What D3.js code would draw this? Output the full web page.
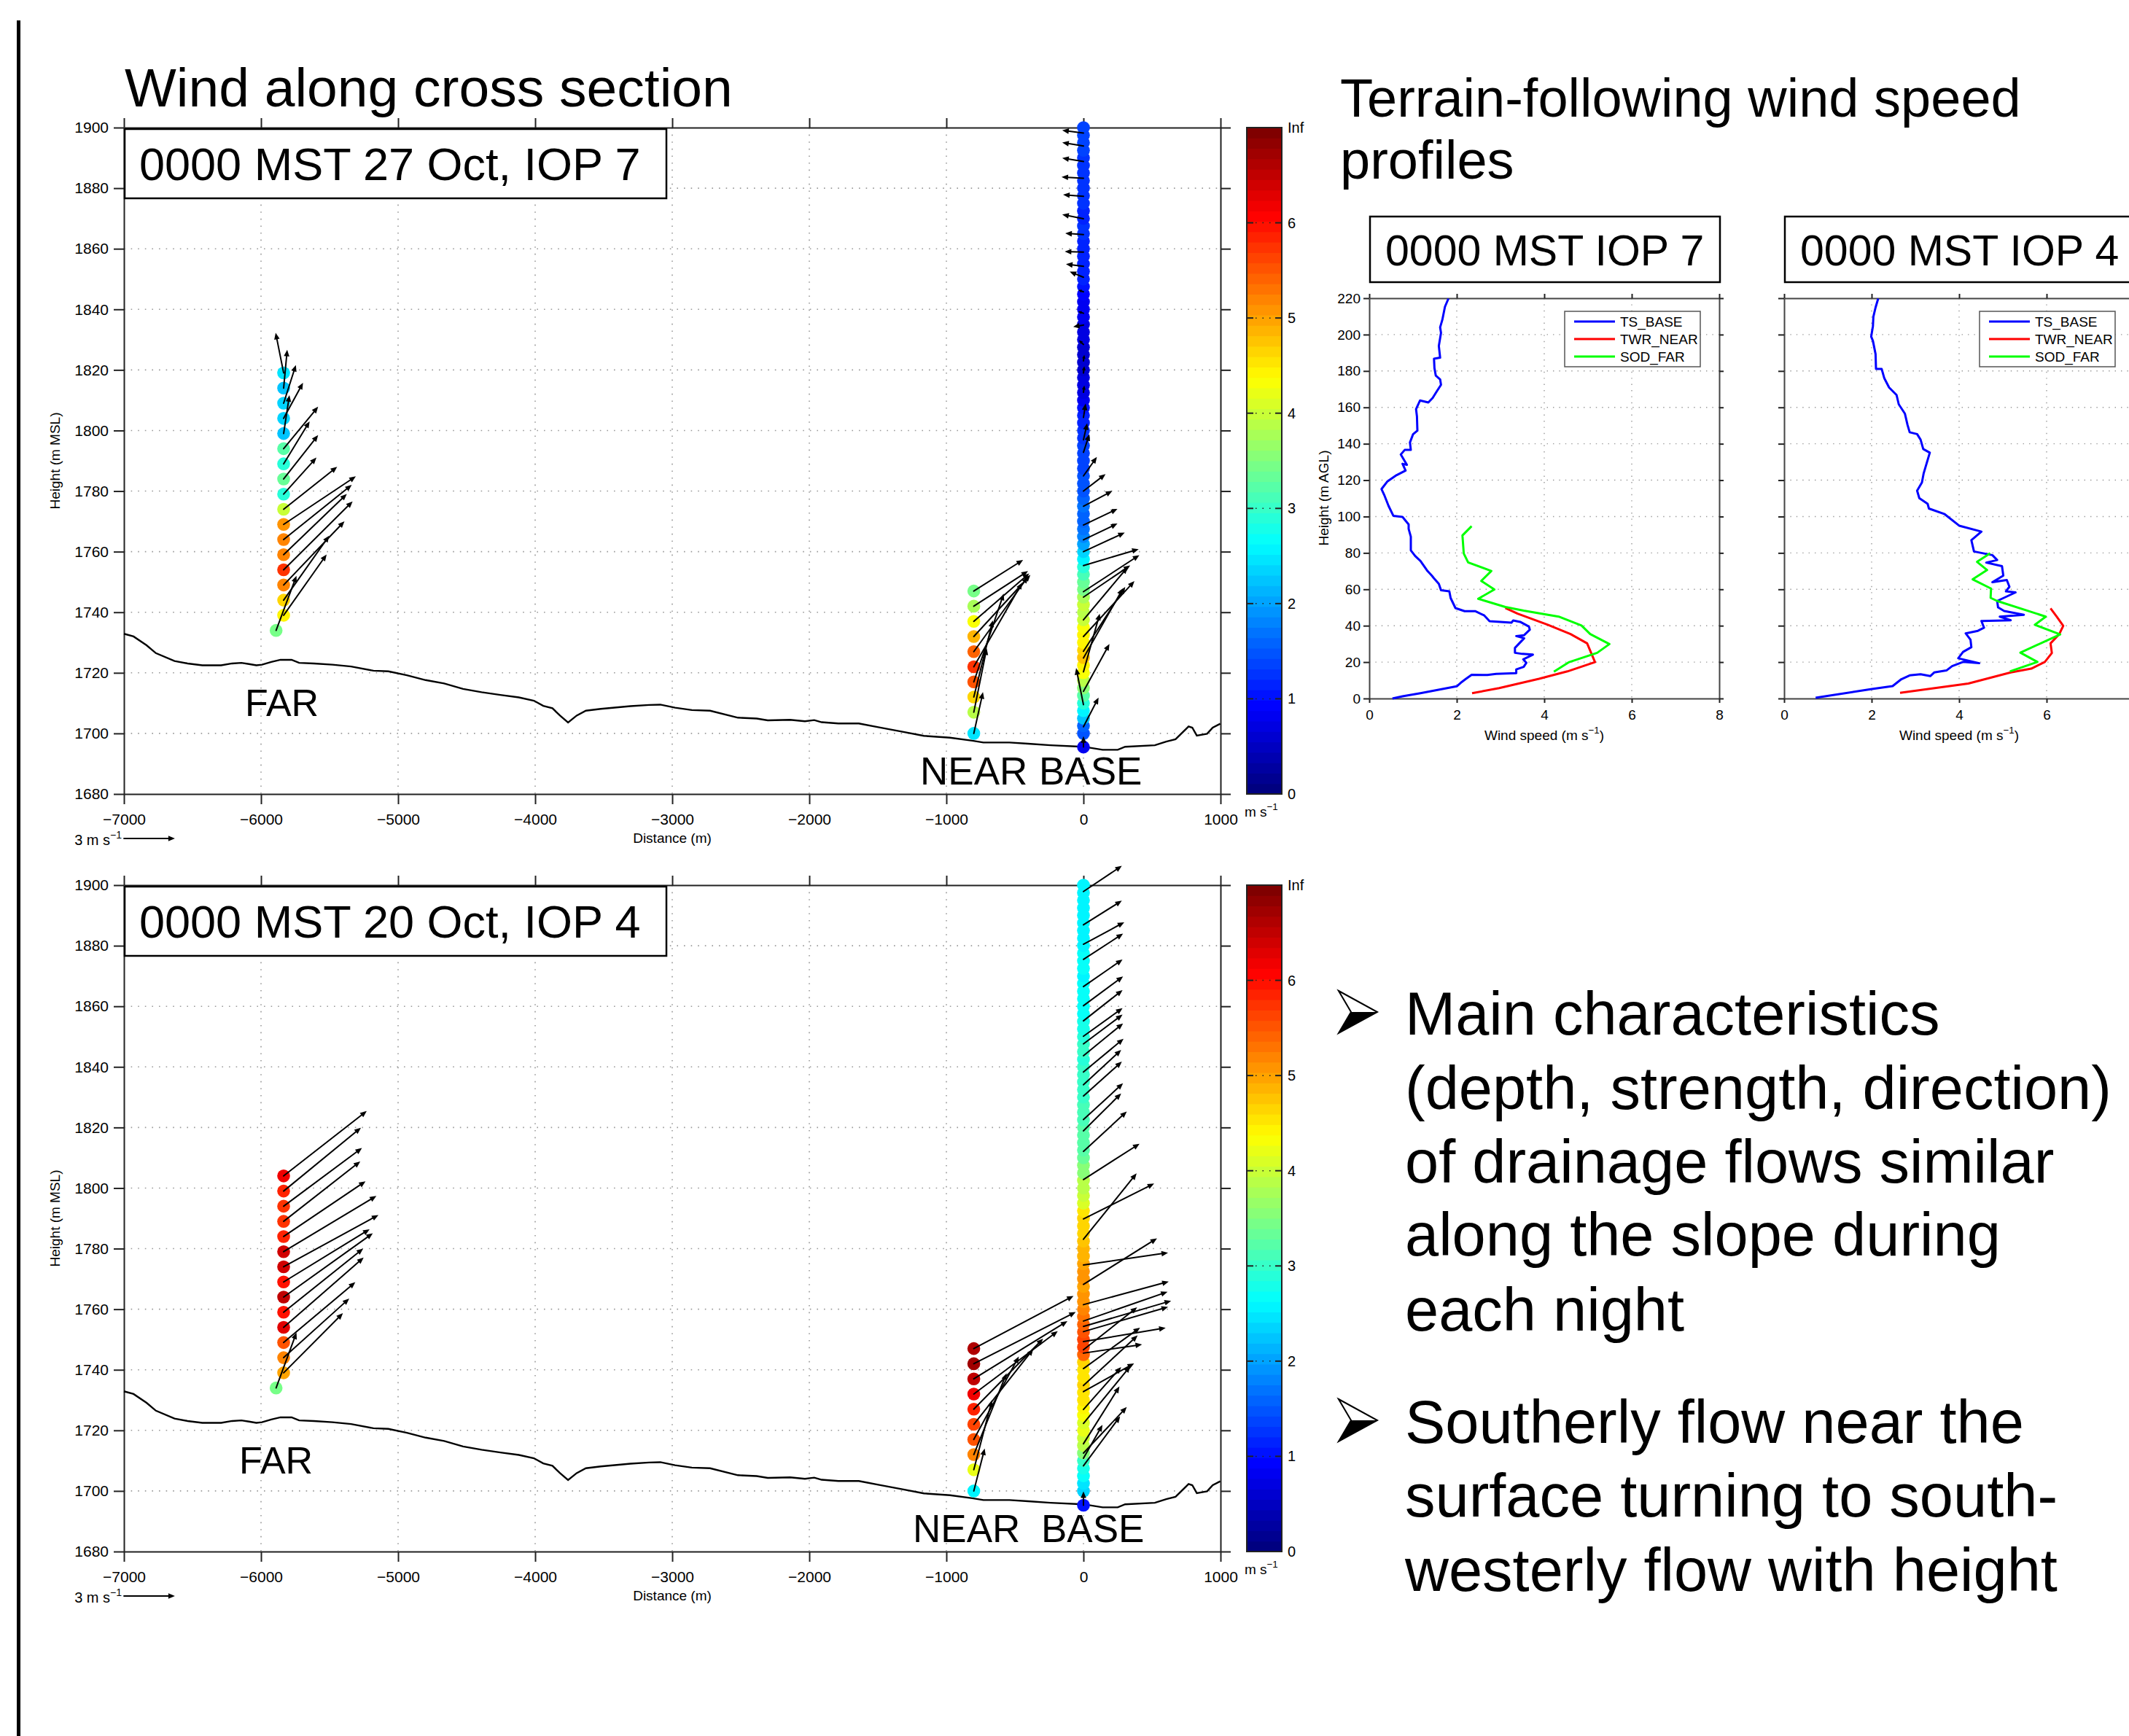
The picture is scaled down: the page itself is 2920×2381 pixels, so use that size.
<!DOCTYPE html>
<html><head><meta charset="utf-8">
<script src="https://cdn.jsdelivr.net/npm/d3@7"></script>
<style>
body{margin:0;background:#fff}
text{font-family:"Liberation Sans",Arial,Helvetica,sans-serif;fill:#000}
</style>
</head><body>
<script>
// ---------------- DATA ----------------
const xsecTicksX = [-7000,-6000,-5000,-4000,-3000,-2000,-1000,0,1000];
const xsecTicksY = [1680,1700,1720,1740,1760,1780,1800,1820,1840,1860,1880,1900];
const cbTicks = [0,1,2,3,4,5,6,7];
const cbTickLabels = ["0","1","2","3","4","5","6","Inf"];
const profTicksX = [0,2,4,6,8];
const profTicksY = [0,20,40,60,80,100,120,140,160,180,200,220];

// terrain along cross section (distance m, elevation m MSL)
const terrainDist = [-7000,-6930,-6835,-6767,-6631,-6536,-6428,-6291,-6211,-6143,-6088,-6034,-5993,-5925,-5858,-5777,-5722,-5614,-5479,-5343,-5180,-5071,-4936,-4799,-4664,-4526,-4391,-4254,-4119,-4009,-3941,-3874,-3819,-3760,-3697,-3630,-3521,-3305,-3169,-3087,-2979,-2857,-2724,-2521,-2384,-2303,-2140,-2032,-1964,-1910,-1788,-1639,-1490,-1327,-1164,-974,-811,-730,-540,-405,-241,0,140,250,304,521,604,672,767,794,827,902,943,998];
const terrainElev = [1732.9,1732.0,1729.1,1726.5,1723.9,1723.1,1722.5,1722.5,1723.1,1723.3,1722.9,1722.5,1722.7,1723.6,1724.3,1724.3,1723.3,1723.1,1722.7,1722.1,1720.7,1720.5,1719.2,1717.6,1716.5,1714.7,1713.6,1712.7,1711.9,1710.8,1709.1,1708.3,1705.9,1703.6,1705.9,1707.5,1708.1,1709.0,1709.4,1709.5,1708.5,1707.7,1707.5,1705.2,1704.9,1704.3,1704.5,1704.0,1704.4,1703.7,1703.3,1703.3,1702.0,1700.6,1699.2,1698.6,1697.6,1697.0,1697.0,1696.6,1696.1,1695.6,1694.6,1694.6,1695.6,1696.1,1697.3,1698.1,1702.3,1701.9,1699.3,1699.9,1701.9,1703.2];

// station distances along section (m)
const farDist = [-5835,-5890];   // profiler column, lowest point
const nearDist = [-800];
const baseDist = [0];

// IOP 7 (27 Oct) FAR column: height, east (u) and north (v) wind, m/s
const iop7FarH = [1819,1814,1809,1804,1799,1794,1789,1784,1779,1774,1769,1764,1759,1754,1749,1744,1739,1734];
const iop7FarU = [-0.47,0.21,0.72,1.14,0.34,2.03,1.53,2.03,1.93,3.15,4.25,4.01,3.72,4.06,3.58,2.68,2.53,1.20];
const iop7FarV = [2.36,2.26,2.25,2.10,2.26,2.47,2.50,2.58,2.15,2.50,2.83,3.22,3.58,4.03,3.75,3.79,3.58,3.22];
// IOP 7 NEAR tower
const nearH = [1747,1742,1737,1732,1727,1722,1717,1712,1707,1700];
const iop7NearU = [2.90,3.19,3.26,3.33,3.19,2.85,1.76,1.12,0.76,0.54];
const iop7NearV = [1.83,2.07,2.82,3.62,4.41,4.95,5.19,4.51,3.76,2.43];
// BASE tethersonde dots
const baseDotH = [1700,1702.5,1705,1707.5,1710,1712.5,1715,1717.5,1720,1722.5,1725,1727.5,1730,1732.5,1735,1737.5,1740,1742.5,1745,1747.5,1750,1752.5,1755,1757.5,1760,1762.5,1765,1767.5,1770,1772.5,1775,1777.5,1780,1782.5,1785,1787.5,1790,1792.5,1795,1797.5,1800,1802.5,1805,1807.5,1810,1812.5,1815,1817.5,1820,1822.5,1825,1827.5,1830,1832.5,1835,1837.5,1840,1842.5,1845,1847.5,1850,1852.5,1855,1857.5,1860,1862.5,1865,1867.5,1870,1872.5,1875,1877.5,1880,1882.5,1885,1887.5,1890,1892.5,1895,1897.5,1900];
const iop7BaseSpeed = [1.5,1.6,2.2,2.6,2.9,3.2,3.6,3.9,4.3,4.4, 4.8,4.7,4.4,4.4,4.3,4.0,3.9,4.0,3.8,3.4, 3.3,3.1,2.9,2.6,2.3,2.0,1.8,1.7,1.6,1.6, 1.7,1.6,1.5,1.5,1.5,1.4,1.4,1.4,1.4,1.3, 1.3,1.2,1.2,1.0,0.8,0.7,0.7,0.7,0.6,0.6, 0.6,0.6,0.7,0.7,0.7,0.8,0.8,0.8,0.9,1.0, 1.1,1.2,1.2,1.2,1.2,1.2,1.3,1.3,1.2,1.2, 1.3,1.3,1.3,1.3,1.3,1.3,1.3,1.4,1.4,1.4,1.4];
const iop7BaseArrowH = [1898.2,1893.9,1888.8,1883.3,1877.3,1869.9,1864.7,1858.9,1854.2,1850.6,1845.8,1838.7,1834.8,1828.4,1823,1819,1812.6,1804.3,1796.9,1792.8,1785,1780,1775,1768.8,1763.9,1760,1755.4,1746.8,1745,1737.5,1732,1727.1,1724.9,1720.3,1713.9,1709.5,1702.2];
const iop7BaseArrowU = [-1.25,-1.25,-1.25,-1.29,-1.20,-1.25,-1.07,-1.10,-1.03,-0.81,-0.30,-0.30,-0.60,-0.26,0.05,0.05,0.05,0.13,0.22,0.35,0.79,1.3,1.7,2.0,2.00,2.43,3.25,3.29,2.75,2.60,3.00,2.46,2.32,0.96,1.53,-0.43,0.89];
const iop7BaseArrowV = [0.16,0.21,0.21,0.07,0.10,0.25,0.07,0.03,0.13,0.33,0.10,0.10,-0.10,0.25,0.35,0.40,0.40,0.82,0.98,1.07,1.12,1.0,0.9,0.95,0.96,1.12,0.97,2.15,1.86,3.10,3.26,3.79,4.09,3.43,2.79,2.15,1.72];

// IOP 4 (20 Oct)
const iop4FarH = [1804,1799,1794,1789,1784,1779,1774,1769,1764,1759,1754,1749,1744,1739,1734];
const iop4FarU = [4.89,4.55,4.61,4.51,4.82,5.46,5.58,5.06,5.25,4.68,4.71,4.22,3.86,3.49,1.20];
const iop4FarV = [3.82,3.73,3.43,3.53,3.25,3.28,3.05,3.10,3.76,3.75,4.11,3.55,3.48,3.51,3.26];
const iop4NearU = [5.87,6.00,5.51,4.94,4.08,3.50,2.65,1.93,1.07,0.64];
const iop4NearV = [3.10,3.04,3.40,3.70,4.15,4.43,4.88,4.79,4.10,2.50];
const iop4BaseSpeed = [2.3,2.5,2.7,2.8,3.0,3.6,3.9,4.0,4.2,4.1, 4.3,4.4,4.5,4.5,4.6,4.5,4.5,4.6,5.4,5.6, 5.6,5.5,5.4,5.3,5.2,5.1,5.1,5.0,5.1,5.1, 5.0,4.9,4.9,4.8,4.7,4.6,4.7,4.5,4.1,4.0, 3.9,3.9,3.6,3.5,3.3,3.2,3.2,3.2,3.2,3.1, 3.1,3.1,3.0,3.0,3.0,3.0,3.0,2.9,3.0,3.0, 2.9,2.8,2.8,2.7,2.7,2.7,2.7,2.7,2.6,2.7, 2.7,2.7,2.6,2.6,2.6,2.6,2.6,2.6,2.6,2.6,2.6];
const iop4BaseArrowH = [1897.9,1886.9,1880.5,1875.5,1866.5,1860.2,1855.2,1850.1,1847.6,1843.7,1838.3,1834.1,1830.4,1822.6,1818.9,1812.1,1802.8,1789.8,1783.1,1774.6,1768.2,1761.5,1756.1,1754.3,1752.6,1749.3,1746.6,1745.5,1740.4,1734.8,1732.8,1726.9,1722.3,1715.6,1712.5,1710.8,1708.3];
const iop4BaseArrowU = [2.26,2.26,2.40,2.33,2.30,2.33,2.30,2.30,2.30,2.33,2.36,2.22,2.26,2.33,2.22,2.55,3.30,4.16,3.13,4.98,4.33,5.02,4.95,5.16,4.98,4.84,3.16,3.45,3.33,3.19,2.98,2.22,2.76,2.12,2.55,1.12,2.16];
const iop4BaseArrowV = [1.51,1.42,1.29,1.51,1.60,1.72,1.81,1.66,1.72,1.90,1.96,2.05,2.02,2.14,2.20,2.35,2.11,2.08,3.88,0.72,2.71,1.36,1.72,1.51,1.45,0.81,2.50,0.51,2.41,2.95,1.66,2.50,3.37,3.37,2.71,1.96,2.92];

// BASE surface station [IOP7, IOP4]
const baseSfcH = [1695.5,1695.3];
const baseSfcSpeed = [0.8,1.0];
const baseSfcU = [0,0];
const baseSfcV = [0.64,0.81];

// Terrain-following profiles (wind speed m/s, height m AGL)
const iop7TsV = [0.53,0.76,1.17,2.0,2.09,2.2,2.34,2.7,2.9,3.36,3.36,3.53,3.59,3.52,3.74,3.5,3.33,3.33,3.54,3.36,3.54,3.67,3.65,3.45,3.29,3.25,2.75,2.63,2.42,2.18,1.97,1.93,1.86,1.83,1.64,1.59,1.48,1.43,1.33,1.24,1.17,1.05,0.95,0.95,0.9,0.9,0.76,0.55,0.44,0.34,0.28,0.41,0.62,0.83,0.76,0.86,0.72,0.81,0.95,0.93,1.0,1.1,1.09,1.07,1.16,1.35,1.45,1.53,1.64,1.62,1.52,1.49,1.48,1.62,1.59,1.64,1.62,1.67,1.73,1.81];
const iop7TsH = [0,1.2,2.9,6.7,8.6,10.6,13,12.9,13.5,13.9,16,17.4,19.6,21.5,24.1,24.5,25.1,27.8,33.1,34.3,34.8,37.8,39.5,42.1,42.9,41.7,42.5,45.6,48,48,49.7,51.7,55.2,58.9,59.5,63,66,67.5,70.1,73.2,75.6,78.3,81.4,88.9,93.2,95.7,99.8,100.4,105.9,112,115.1,119.2,122.7,125.3,129,128.4,134.1,136.6,136.6,140.7,145.2,147.2,155,159,163.8,162.7,165.2,168.3,172.4,175.4,177.5,181.6,186.7,187.3,193.8,201,204,208.1,215.3,219.8];
const iop7TwrV = [2.35,2.97,3.88,4.53,5.16,4.98,4.60,4.08,3.39,3.11];
const iop7TwrH = [2.9,5.7,10.8,14.9,20,30.3,35.4,40.5,46.6,49.7];
const iop7SodV = [4.22,4.57,5.21,5.49,5.05,4.85,4.33,3.53,3.11,2.49,2.86,2.56,2.79,2.26,2.16,2.13,2.34];
const iop7SodH = [14.7,20,25.1,29.9,35.4,40.1,45,48.3,50.3,54.8,59.9,64.6,70.1,74.8,79.7,89.6,94.7];

const iop4TsV = [0.72,1.98,2.48,2.68,2.87,3.12,3.34,3.43,3.71,3.84,4.09,4.46,3.98,4.09,4.28,4.26,4.15,4.43,4.57,4.51,5.18,4.93,5.48,5.03,4.89,4.87,5.29,5.07,5.15,5.09,4.76,5.01,4.98,4.62,4.87,4.76,4.34,4.28,4.51,4.0,3.67,3.31,3.28,3.09,3.04,3.15,3.19,3.33,3.18,3.12,3.04,2.87,2.82,2.76,2.62,2.57,2.4,2.29,2.23,2.1,2.09,2.03,1.99,2.03,2.04,2.09,2.15];
const iop4TsH = [0.4,5.1,6.8,10.6,12.7,13.3,12.3,14.3,15.4,17.8,20.1,19.4,22.1,25.6,28.2,32.3,35.8,37.2,38.9,42.6,43,45,46,48.1,50.1,53.6,58.3,58.9,61.4,65.1,63.9,67.5,72.7,74.7,76.1,78.8,80.8,87,91.7,95,101.3,104.4,107,110.1,114.2,118.7,123.8,135.1,137.1,142.2,145.3,146.3,150.4,156.6,161.7,166.8,170.9,176,181.1,181.1,189.3,196.5,198.9,204.7,209.8,214.9,219.8];
const iop4TwrV = [2.65,4.21,5.18,5.65,5.96,6.12,6.09,6.29,6.38,6.23,6.09];
const iop4TwrH = [3.1,8.2,14.3,16.4,20.1,25,30.3,35.4,39.9,45,49.5];
const iop4SodV = [5.16,5.79,5.40,6.31,5.73,5.98,4.87,4.72,4.73,4.31,4.64,4.41,4.71];
const iop4SodH = [14.9,20.1,25.2,35.2,40.5,45,53.6,55.3,60.4,65.5,70.6,75.1,79.8];

const legendNames = ["TS_BASE","TWR_NEAR","SOD_FAR"];
const legendColors = ["#0000ff","#ff0000","#00ff00"];
const bullet1 = ["Main characteristics","(depth, strength, direction)","of drainage flows similar","along the slope during","each night"];
const bullet2 = ["Southerly flow near the","surface turning to south-","westerly flow with height"];

// ---------------- DRAWING ----------------
const W = 2920, H = 2381;
const svg = d3.select("body").append("svg").attr("width", W).attr("height", H)
  .attr("xmlns","http://www.w3.org/2000/svg");
svg.append("rect").attr("width", W).attr("height", H).attr("fill", "#fff");

const SPD_MAX = 7, NCOL = 64, PX_PER_MS = 23.3;
const cl = v => Math.max(0, Math.min(1, v));
function jet(t){
  const r = cl(1.5 - Math.abs(4*t - 3)), g = cl(1.5 - Math.abs(4*t - 2)), b = cl(1.5 - Math.abs(4*t - 1));
  return d3.rgb(r*255, g*255, b*255).formatHex();
}
function speedColor(s){
  let i = Math.floor(s / SPD_MAX * NCOL); i = Math.max(0, Math.min(NCOL-1, i));
  return jet(i/(NCOL-1));
}
function arrow(g, x0, y0, x1, y1, lw){
  const dx = x1-x0, dy = y1-y0, L = Math.hypot(dx,dy);
  if (L < 0.5) return;
  const ux = dx/L, uy = dy/L;
  const hl = Math.min(9, L*0.6), hw = Math.min(3.8, hl*0.45);
  const bx = x1 - ux*hl, by = y1 - uy*hl;
  g.append("line").attr("x1",x0).attr("y1",y0).attr("x2",bx+ux*1).attr("y2",by+uy*1)
   .attr("stroke","#000").attr("stroke-width",lw||2).attr("stroke-linecap","round");
  g.append("path").attr("d",`M${x1},${y1}L${bx-uy*hw},${by+ux*hw}L${bx+uy*hw},${by-ux*hw}Z`).attr("fill","#000");
}
function styleAxis(sel, fs){
  sel.selectAll(".domain").attr("stroke","#222").attr("stroke-width",2);
  sel.selectAll(".tick line").attr("stroke","#222").attr("stroke-width",2);
  sel.selectAll("text").attr("font-family","Liberation Sans, Arial, sans-serif").attr("font-size",fs).attr("fill","#000");
}
function supText(g, x, y, base, sup, fs, anchor){
  const t = g.append("text").attr("x",x).attr("y",y).attr("font-size",fs).attr("text-anchor",anchor||"start");
  t.append("tspan").text(base);
  t.append("tspan").attr("dy",-fs*0.45).attr("font-size",fs*0.7).text(sup);
  return t;
}
function supText3(g, x, y, pre, sup, post, fs, anchor){
  const t = g.append("text").attr("x",x).attr("y",y).attr("font-size",fs).attr("text-anchor",anchor||"start");
  t.append("tspan").text(pre);
  t.append("tspan").attr("dy",-fs*0.45).attr("font-size",fs*0.7).text(sup);
  t.append("tspan").attr("dy",fs*0.45).text(post);
  return t;
}

// left black bar
svg.append("rect").attr("x",23).attr("y",28).attr("width",5).attr("height",H-28).attr("fill","#000");

// titles
svg.append("text").attr("x",171).attr("y",146).attr("font-size",75).text("Wind along cross section");
svg.append("text").attr("x",1838).attr("y",160).attr("font-size",74).text("Terrain-following wind speed");
svg.append("text").attr("x",1838).attr("y",245).attr("font-size",74).text("profiles");

function drawXsec(o){
  const g = svg.append("g");
  const x = d3.scaleLinear().domain([-7000,1000]).range([170,1674]);
  const y = d3.scaleLinear().domain([1680,1900]).range([o.bottom,o.top]);
  // grid
  const grid = g.append("g").attr("stroke","#9a9a9a").attr("stroke-width",1.6).attr("stroke-dasharray","1.6,8");
  xsecTicksX.slice(1,-1).forEach(t => grid.append("line").attr("x1",x(t)).attr("x2",x(t)).attr("y1",o.top).attr("y2",o.bottom));
  xsecTicksY.slice(1,-1).forEach(t => grid.append("line").attr("y1",y(t)).attr("y2",y(t)).attr("x1",170).attr("x2",1674));
  // axes
  const fmt = d3.format("d");
  const ab = g.append("g").attr("transform",`translate(0,${o.bottom})`)
    .call(d3.axisBottom(x).tickValues(xsecTicksX).tickSize(14).tickSizeOuter(0).tickPadding(13).tickFormat(fmt));
  styleAxis(ab, 21);
  const at = g.append("g").attr("transform",`translate(0,${o.top})`)
    .call(d3.axisTop(x).tickValues(xsecTicksX).tickSize(13).tickSizeOuter(0).tickFormat(""));
  styleAxis(at, 21);
  const al = g.append("g").attr("transform",`translate(170,0)`)
    .call(d3.axisLeft(y).tickValues(xsecTicksY).tickSize(14).tickSizeOuter(0).tickPadding(7).tickFormat(fmt));
  styleAxis(al, 21);
  const ar = g.append("g").attr("transform",`translate(1674,0)`)
    .call(d3.axisRight(y).tickValues(xsecTicksY).tickSize(14).tickSizeOuter(0).tickFormat(""));
  styleAxis(ar, 21);
  // axis labels
  g.append("text").attr("x",922).attr("y",o.bottom+67).attr("text-anchor","middle").attr("font-size",19).text("Distance (m)");
  g.append("text").attr("transform",`translate(82,${(o.top+o.bottom)/2}) rotate(-90)`).attr("text-anchor","middle").attr("font-size",19).text("Height (m MSL)");
  // scale arrow
  const sa = g.append("g");
  arrow(sa, x(-7000), o.bottom+61, x(-7000)+3*PX_PER_MS, o.bottom+61, 1.8);
  supText(sa, 167, o.bottom+70, "3 m s", "\u22121", 20, "end");
  // terrain
  const line = d3.line().x((d,i)=>x(terrainDist[i])).y((d,i)=>y(terrainElev[i])).curve(d3.curveLinear);
  g.append("path").attr("d", line(terrainDist)).attr("fill","none").attr("stroke","#000").attr("stroke-width",2.4);
  // station labels
  g.append("text").attr("x",o.farLabX).attr("y",o.bottom-107).attr("font-size",52).text("FAR");
  g.append("text").attr("x",o.nearLabX).attr("y",o.bottom-13).attr("font-size",53).text("NEAR");
  g.append("text").attr("x",o.baseLabX).attr("y",o.bottom-13).attr("font-size",53).text("BASE");
  // dots
  const R = 8.8;
  const dots = g.append("g");
  baseDotH.forEach((h,i)=> dots.append("circle").attr("cx",x(baseDist[0])).attr("cy",y(h)).attr("r",R).attr("fill",speedColor(o.baseSpeed[i])));
  dots.append("circle").attr("cx",x(baseDist[0])).attr("cy",y(baseSfcH[o.k])).attr("r",R).attr("fill",speedColor(baseSfcSpeed[o.k]));
  o.farH.forEach((h,i)=>{
    const d = i===o.farH.length-1 ? farDist[1] : farDist[0];
    dots.append("circle").attr("cx",x(d)).attr("cy",y(h)).attr("r",R).attr("fill",speedColor(Math.hypot(o.farU[i],o.farV[i])));
  });
  nearH.forEach((h,i)=> dots.append("circle").attr("cx",x(nearDist[0])).attr("cy",y(h)).attr("r",R).attr("fill",speedColor(Math.hypot(o.nearU[i],o.nearV[i]))));
  // arrows
  const arr = g.append("g");
  o.farH.forEach((h,i)=>{
    const d = i===o.farH.length-1 ? farDist[1] : farDist[0];
    const x0 = x(d), y0 = y(h);
    arrow(arr, x0, y0, x0+o.farU[i]*PX_PER_MS, y0-o.farV[i]*PX_PER_MS);
  });
  nearH.forEach((h,i)=>{
    const x0 = x(nearDist[0]), y0 = y(h);
    arrow(arr, x0, y0, x0+o.nearU[i]*PX_PER_MS, y0-o.nearV[i]*PX_PER_MS);
  });
  o.baseAH.forEach((h,i)=>{
    const x0 = x(baseDist[0]), y0 = y(h);
    arrow(arr, x0, y0, x0+o.baseAU[i]*PX_PER_MS, y0-o.baseAV[i]*PX_PER_MS);
  });
  {
    const x0 = x(baseDist[0]), y0 = y(baseSfcH[o.k]);
    arrow(arr, x0, y0, x0+baseSfcU[o.k]*PX_PER_MS, y0-baseSfcV[o.k]*PX_PER_MS);
  }
  // annotation box
  g.append("rect").attr("x",171).attr("y",o.top+2).attr("width",743).attr("height",95).attr("fill","#fff").attr("stroke","#000").attr("stroke-width",2.5);
  g.append("text").attr("x",191).attr("y",o.top+72).attr("font-size",63).text(o.label);
  // colorbar
  const cy = d3.scaleLinear().domain([0,7]).range([o.bottom,o.top]);
  const cb = g.append("g");
  const bh = (o.bottom-o.top)/NCOL;
  d3.range(NCOL).forEach(i => cb.append("rect").attr("x",1710).attr("y",o.bottom-(i+1)*bh-0.5).attr("width",48).attr("height",bh+1).attr("fill",jet(i/(NCOL-1))));
  cbTicks.slice(1,-1).forEach(t=>{
    cb.append("line").attr("x1",1710).attr("x2",1719).attr("y1",cy(t)).attr("y2",cy(t)).attr("stroke","#222").attr("stroke-width",2);
    cb.append("line").attr("x1",1749).attr("x2",1758).attr("y1",cy(t)).attr("y2",cy(t)).attr("stroke","#222").attr("stroke-width",2);
    cb.append("line").attr("x1",1722).attr("x2",1746).attr("y1",cy(t)).attr("y2",cy(t)).attr("stroke","#222").attr("stroke-width",1.5).attr("stroke-dasharray","1.5,8");
  });
  cb.append("rect").attr("x",1710).attr("y",o.top).attr("width",48).attr("height",o.bottom-o.top).attr("fill","none").attr("stroke","#222").attr("stroke-width",2);
  cbTicks.forEach((t,i)=> cb.append("text").attr("x",1766).attr("y",cy(t)).attr("dy","0.35em").attr("font-size",20).text(cbTickLabels[i]));
  supText(cb, 1707, o.bottom+31, "m s", "\u22121", 19, "start");
}

drawXsec({top:175, bottom:1089, k:0, label:"0000 MST 27 Oct, IOP 7",
  farH:iop7FarH, farU:iop7FarU, farV:iop7FarV, nearU:iop7NearU, nearV:iop7NearV,
  baseSpeed:iop7BaseSpeed, baseAH:iop7BaseArrowH, baseAU:iop7BaseArrowU, baseAV:iop7BaseArrowV,
  farLabX:336, nearLabX:1262, baseLabX:1425});
drawXsec({top:1214, bottom:2128, k:1, label:"0000 MST 20 Oct, IOP 4",
  farH:iop4FarH, farU:iop4FarU, farV:iop4FarV, nearU:iop4NearU, nearV:iop4NearV,
  baseSpeed:iop4BaseSpeed, baseAH:iop4BaseArrowH, baseAU:iop4BaseArrowU, baseAV:iop4BaseArrowV,
  farLabX:328, nearLabX:1252, baseLabX:1428});

function drawProfile(o){
  const g = svg.append("g");
  const x = d3.scaleLinear().domain([0,8]).range([o.x0, o.x0+480]);
  const y = d3.scaleLinear().domain([0,220]).range([958,409]);
  const grid = g.append("g").attr("stroke","#9a9a9a").attr("stroke-width",1.4).attr("stroke-dasharray","1.4,7");
  profTicksX.slice(1,-1).forEach(t => grid.append("line").attr("x1",x(t)).attr("x2",x(t)).attr("y1",409).attr("y2",958));
  profTicksY.slice(1,-1).forEach(t => grid.append("line").attr("y1",y(t)).attr("y2",y(t)).attr("x1",o.x0).attr("x2",o.x0+480));
  const xfmt = d => (x(d) > W - 12 ? "" : d3.format("d")(d));
  const ab = g.append("g").attr("transform","translate(0,958)")
    .call(d3.axisBottom(x).tickValues(profTicksX).tickSize(6).tickSizeOuter(0).tickPadding(10).tickFormat(xfmt));
  styleAxis(ab, 19);
  const at = g.append("g").attr("transform","translate(0,409)")
    .call(d3.axisTop(x).tickValues(profTicksX).tickSize(6).tickSizeOuter(0).tickFormat(""));
  styleAxis(at, 19);
  const al = g.append("g").attr("transform",`translate(${o.x0},0)`)
    .call(d3.axisLeft(y).tickValues(profTicksY).tickSize(8).tickSizeOuter(0).tickPadding(4).tickFormat(o.yLabels ? d3.format("d") : ""));
  styleAxis(al, 19);
  const ar = g.append("g").attr("transform",`translate(${o.x0+480},0)`)
    .call(d3.axisRight(y).tickValues(profTicksY).tickSize(6).tickSizeOuter(0).tickFormat(""));
  styleAxis(ar, 19);
  g.selectAll(".domain").attr("stroke","#444");
  supText3(g, o.x0+240, 1015, "Wind speed (m s", "\u22121", ")", 19, "middle");
  if (o.yLabels) g.append("text").attr("transform",`translate(${o.x0-56},683) rotate(-90)`).attr("text-anchor","middle").attr("font-size",19).text("Height (m AGL)");
  const ln = d3.line().x(d=>x(d[0])).y(d=>y(d[1]));
  const series = [d3.zip(o.tsV,o.tsH), d3.zip(o.twV,o.twH), d3.zip(o.soV,o.soH)];
  series.forEach((s,i)=> g.append("path").attr("d",ln(s)).attr("fill","none").attr("stroke",legendColors[i]).attr("stroke-width",3).attr("stroke-linejoin","round"));
  // legend
  const lg = g.append("g");
  lg.append("rect").attr("x",o.x0+268).attr("y",427).attr("width",186).attr("height",76).attr("fill","#fff").attr("stroke","#555").attr("stroke-width",1.5);
  legendNames.forEach((n,i)=>{
    const yy = 441 + i*24;
    lg.append("line").attr("x1",o.x0+281).attr("x2",o.x0+337).attr("y1",yy).attr("y2",yy).attr("stroke",legendColors[i]).attr("stroke-width",3);
    lg.append("text").attr("x",o.x0+344).attr("y",yy).attr("dy","0.36em").attr("font-size",19).text(n);
  });
  // title box
  g.append("rect").attr("x",o.x0+1).attr("y",297).attr("width",480).attr("height",90).attr("fill","#fff").attr("stroke","#000").attr("stroke-width",2.5);
  g.append("text").attr("x",o.x0+22).attr("y",364).attr("font-size",59).text(o.label);
}
drawProfile({x0:1878, yLabels:true, label:"0000 MST IOP 7", tsV:iop7TsV, tsH:iop7TsH, twV:iop7TwrV, twH:iop7TwrH, soV:iop7SodV, soH:iop7SodH});
drawProfile({x0:2447, yLabels:false, label:"0000 MST IOP 4", tsV:iop4TsV, tsH:iop4TsH, twV:iop4TwrV, twH:iop4TwrH, soV:iop4SodV, soH:iop4SodH});

// bullet text
function bulletMark(x, yb){
  const g = svg.append("g");
  const t = yb-58, b = yb, m = (t+b)/2;
  g.append("path").attr("d",`M${x},${t}L${x+53},${m}L${x},${b}L${x+17},${m}Z`).attr("fill","#fff").attr("stroke","#000").attr("stroke-width",2);
  g.append("path").attr("d",`M${x+17},${m}L${x+53},${m}L${x},${b}Z`).attr("fill","#000");
}
const b1Y = [1419,1521,1622,1722,1825], b2Y = [1979,2080,2182];
bulletMark(1836, 1417);
bullet1.forEach((s,i)=> svg.append("text").attr("x",1927).attr("y",b1Y[i]).attr("font-size",83).text(s));
bulletMark(1836, 1977);
bullet2.forEach((s,i)=> svg.append("text").attr("x",1927).attr("y",b2Y[i]).attr("font-size",83).text(s));
</script>
</body></html>
